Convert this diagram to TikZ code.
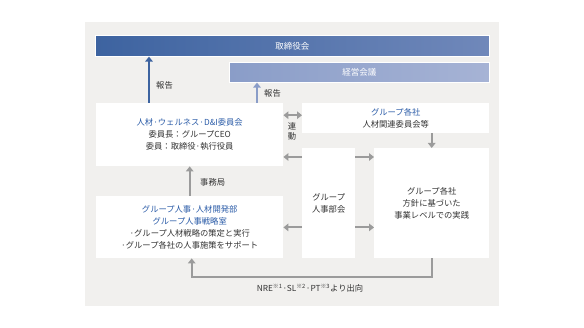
\documentclass[tikz,border=0pt]{standalone}
\usepackage{fontspec}
\setmainfont{Noto Sans CJK JP}
\usetikzlibrary{arrows.meta,positioning,calc}
\definecolor{boardblue}{HTML}{3D63A0}
\definecolor{boardlite}{HTML}{7088BA}
\definecolor{mtgblue}{HTML}{8A9DC8}
\definecolor{mtglite}{HTML}{A6B3D5}
\definecolor{bggray}{HTML}{F1F0EE}
\definecolor{arrgray}{HTML}{9B9B9B}
\definecolor{headblue}{HTML}{2B5CA8}
\definecolor{txtgray}{HTML}{333333}
\tikzset{
  panel/.style={fill=white,inner sep=0pt,anchor=north west,text=txtgray,
    align=center,font=\fontsize{8.3}{11.8}\selectfont},
  barbox/.style={draw=white,line width=0.6pt,inner sep=0pt,anchor=north west,
    text=white,font=\fontsize{8.5}{10}\selectfont},
  garr/.style={arrgray,line width=2pt,-{Triangle[length=5pt,width=7.5pt]}},
  garrboth/.style={arrgray,line width=2pt,{Triangle[length=5pt,width=7.5pt]}-{Triangle[length=5pt,width=7.5pt]}},
  barr/.style={line width=2pt,-{Triangle[length=5pt,width=7.5pt]}},
  lbl/.style={text=txtgray,font=\fontsize{8.3}{10}\selectfont,inner sep=0pt},
  ttl/.style={text=headblue},
}

\begin{document}
\begin{tikzpicture}[x=1pt,y=-1pt]
  \useasboundingbox (0,0) rectangle (584,328);
  \fill[bggray] (85,22) rectangle (499,306);
  % top bars
  \node[barbox,minimum width=394pt,minimum height=21pt,left color=boardblue,right color=boardlite]
       (board) at (95,35) {取締役会};
  \node[barbox,minimum width=260pt,minimum height=20pt,left color=mtgblue,right color=mtglite]
       (mtg) at (229,62) {経営会議};
  % boxes
  \node[panel,minimum width=187pt,minimum height=63pt] (wellness) at (96,103)
       {\textcolor{headblue}{人材·ウェルネス·D\&I委員会}\\委員長：グループCEO\\委員：取締役·執行役員};
  \node[panel,minimum width=187pt,minimum height=30pt] (groups) at (302,103)
       {\textcolor{headblue}{グループ各社}\\人材関連委員会等};
  \node[panel,minimum width=53pt,minimum height=110pt] (bukai) at (302,148)
       {グループ\\人事部会};
  \node[panel,minimum width=115pt,minimum height=110pt] (field) at (374,148)
       {グループ各社\\方針に基づいた\\事業レベルでの実践};
  \node[panel,minimum width=187pt,minimum height=62pt] (hrd) at (96,196)
       {\textcolor{headblue}{グループ人事·人材開発部}\\\textcolor{headblue}{グループ人事戦略室}\\·グループ人材戦略の策定と実行\\·グループ各社の人事施策をサポート};
  % reports
  \draw[barr,boardblue] ([xshift=53pt]wellness.north west) -- ([xshift=53pt]wellness.north west |- board.south);
  \node[lbl,anchor=west] (rep1) at (156,85) {報告};
  \draw[barr,mtgblue] ([xshift=161pt]wellness.north west) -- ([xshift=161pt]wellness.north west |- mtg.south);
  \node[lbl,anchor=west] (rep2) at (264,93) {報告};
  % gray links
  \draw[garrboth] ([yshift=3pt]groups.west) -- ([yshift=3pt]groups.west -| wellness.east);
  \node[lbl,align=center,font=\fontsize{8.3}{10}\selectfont] (rendo) at (292,131) {連\\動};
  \draw[garr] (groups.south -| field.north) -- (field.north);
  \draw[garr] ([yshift=-9pt]bukai.north west) -- ([yshift=-9pt]bukai.north west -| wellness.east);
  \draw[garr] ([yshift=31pt]bukai.south west) -- ([yshift=31pt]bukai.south west -| hrd.east);
  \draw[garr] ([yshift=-9pt]bukai.north east) -- ([yshift=-9pt]bukai.north east -| field.west);
  \draw[garr] ([yshift=31pt]bukai.south east) -- ([yshift=31pt]bukai.south east -| field.west);
  \draw[garr] (hrd.north) -- (wellness.south);
  \node[lbl,anchor=west] (jimu) at (200,182) {事務局};
  % dispatch
  \coordinate (ret) at (0,277);
  \draw[garr] (field.south) -- (field.south |- ret) -- ([xshift=2pt]hrd.south |- ret) -- ([xshift=2pt]hrd.south);
  \node[lbl] (nre) at (310,288) {NRE\textsuperscript{※1}·SL\textsuperscript{※2}·PT\textsuperscript{※3}より出向};
\end{tikzpicture}
\end{document}
